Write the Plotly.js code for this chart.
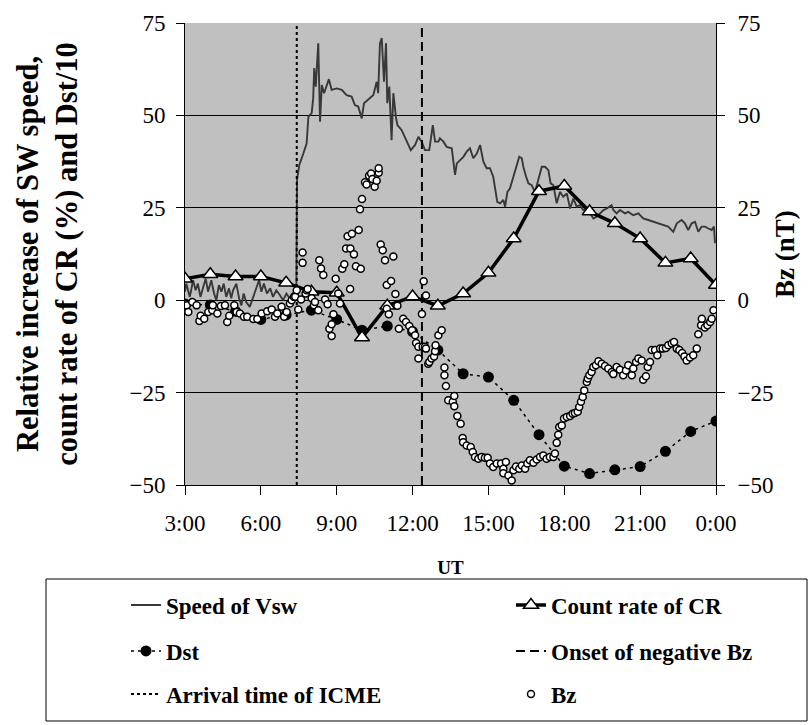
<!DOCTYPE html>
<html>
<head>
<meta charset="utf-8">
<script src="https://cdn.plot.ly/plotly-3.0.1.min.js"></script>
<style>html,body{margin:0;padding:0;background:#fff;}#chart{width:812px;height:725px;}</style>
</head>
<body>
<div id="chart"></div>
<script>
// ---- data (hours UT; 24 = 0:00 of next day) ----
const hours = [3,4,5,6,7,8,9,10,11,12,13,14,15,16,17,18,19,20,21,22,23,24];
const crRate = [5.8,7.0,6.4,6.4,4.7,2.3,2.0,-10.1,-1.5,1.0,-1.5,1.8,7.4,16.7,29.5,30.9,24.0,20.8,16.7,10.1,11.3,4.1];
const dstTenth = [-1.0,-1.3,-3.0,-5.2,-4.0,-2.7,-5.2,-8.1,-7.0,-8.5,-13.5,-19.9,-20.8,-27.1,-36.4,-44.9,-46.9,-45.9,-45.0,-40.9,-35.5,-32.7];

const speedTime = [3.0,3.05,3.19,3.32,3.42,3.51,3.61,3.71,3.82,3.91,4.04,4.15,4.24,4.34,4.44,4.53,4.63,4.74,4.83,4.90,5.03,5.14,5.23,5.32,5.42,5.56,5.69,5.82,5.93,6.02,6.12,6.24,6.37,6.48,6.61,6.75,6.88,7.01,7.14,7.27,7.40,7.43,
  7.52,7.68,7.81,7.88,8.01,8.07,8.11,8.17,8.27,8.34,8.41,8.50,8.60,8.69,8.80,9.00,9.20,9.39,9.59,9.72,9.85,9.99,10.08,10.25,10.45,10.58,10.64,10.71,10.78,10.87,10.95,11.00,11.08,11.17,11.24,11.34,11.40,11.57,11.77,11.93,12.10,12.23,12.36,12.49,12.66,12.80,12.89,13.02,
  13.08,13.22,13.35,13.55,13.68,13.75,13.88,14.01,14.14,14.27,14.40,14.54,14.67,14.80,14.93,15.06,15.19,15.26,15.35,15.46,15.59,15.66,15.75,15.85,15.98,16.12,16.22,16.32,16.38,16.49,16.58,16.71,16.84,16.97,17.11,17.24,17.37,17.46,17.57,17.70,17.83,17.96,18.10,18.23,18.36,18.49,18.62,18.75,18.89,19.02,19.15,19.28,19.41,19.55,19.68,19.87,19.94,20.07,20.20,20.40,20.53,20.73,20.93,21.12,21.32,21.52,21.71,21.92,22.11,22.31,22.45,22.64,22.77,22.90,23.04,23.17,23.30,23.43,23.57,23.70,23.83,23.92,23.96];
const speedVal = [2.3,4.5,0.9,5.4,2.7,4.5,0.9,3.6,5.9,2.3,5.4,1.8,0,4.1,2.3,4.5,0.9,3.2,0.5,2.7,4.5,0.5,-1.4,1.8,-0.5,-1.8,0.9,3.6,5.4,2.3,4.5,1.8,3.2,0.9,2.7,1.4,0,1.8,0.5,1.8,0.5,32.5,
  36.6,39.7,42.4,49.6,50.6,54.6,62.8,57.8,69.5,48.3,58.2,56.0,57.8,59.8,56.9,57.3,56.9,55.5,55.1,52.8,52.4,49.2,53.3,54.2,55.5,59.1,56.0,69.5,70.9,59.1,69.5,53.3,57.8,43.3,56.0,49.6,47.4,46.0,42.9,40.6,42.0,44.2,42.9,40.6,40.6,47.4,42.9,42.9,
  43.8,42.9,41.5,41.1,33.9,37.0,37.9,38.8,40.2,41.1,38.4,39.7,42.0,37.5,35.7,35.7,33.4,29.8,26.6,26.2,27.1,25.3,29.3,30.2,33.4,37.0,38.8,38.4,36.1,33.4,31.6,31.1,29.3,32.5,36.1,36.1,35.2,31.6,31.1,26.2,29.3,28.0,28.9,24.8,27.5,25.3,25.7,24.4,24.8,23.5,22.1,22.6,23.5,24.4,24.8,25.7,24.4,23.5,24.4,23.5,23.9,23.0,23.5,22.1,21.7,21.2,20.8,20.3,19.9,18.5,20.8,21.7,20.8,19.0,20.8,21.2,18.5,19.9,19.9,19.4,19.0,19.9,15.4];

const bzTime = [3.0,3.07,3.13,3.29,3.46,3.57,3.62,3.76,3.92,4.08,4.10,4.28,4.42,4.58,4.67,4.75,4.95,5.04,5.17,5.33,5.46,5.70,5.86,6.03,6.25,6.43,6.56,6.65,6.82,6.92,7.02,7.15,7.22,7.31,7.36,7.42,7.48,7.59,7.65,7.65,7.77,7.81,7.85,8.01,8.10,8.14,8.27,8.31,8.38,8.47,8.54,8.64,8.71,8.80,8.80,8.87,8.96,9.06,9.13,9.22,9.30,9.37,9.43,9.53,9.54,9.60,9.68,9.76,9.87,9.92,9.95,10.0,10.12,10.18,10.28,10.36,10.41,10.50,10.58,10.66,10.66,10.74,10.82,10.91,10.98,10.98,11.06,11.15,11.24,11.32,11.37,11.40,11.46,11.63,11.74,11.87,11.98,12.10,12.14,12.23,12.23,12.37,12.40,12.44,12.49,12.53,12.53,12.62,12.66,12.75,12.85,12.89,12.91,13.02,13.15,13.26,13.26,13.32,13.41,13.59,13.65,13.65,13.77,13.90,13.98,14.00,14.14,14.30,14.38,14.47,14.60,14.73,14.86,14.97,15.06,15.19,15.33,15.50,15.59,15.59,15.69,15.79,15.92,15.99,16.09,16.22,16.32,16.45,16.54,16.64,16.78,16.91,17.04,17.17,17.30,17.43,17.57,17.63,17.70,17.76,17.80,17.90,17.99,18.10,18.23,18.33,18.42,18.53,18.59,18.66,18.73,18.79,18.89,18.93,18.99,19.08,19.15,19.25,19.35,19.48,19.61,19.74,19.88,19.94,20.07,20.20,20.33,20.44,20.53,20.67,20.73,20.84,20.93,21.06,21.12,21.23,21.30,21.39,21.46,21.59,21.68,21.79,21.89,22.02,22.11,22.25,22.34,22.45,22.55,22.66,22.75,22.84,22.97,23.10,23.24,23.30,23.41,23.44,23.56,23.66,23.77,23.83,23.90];
const bzVal = [-1.0,-1.4,-3.2,-0.5,-1.4,-5.6,-4.2,-5.0,-3.2,-2.7,-1.4,-3.6,-1.6,-1.4,-5.9,-4.2,-1.4,-3.2,-3.6,-4.5,-4.5,-5.1,-5.1,-3.6,-3.0,-2.5,-4.5,-3.6,-1.8,-4.5,-3.2,-0.9,0,0.9,0.9,2.7,-2.5,0.2,12.9,10.1,1.8,2.7,3.0,0.5,-1.4,-0.5,-2.7,10.8,8.6,6.8,0.2,-1.1,-7.7,-6.5,-9.7,-3.8,5.8,1.8,-0.9,8.5,9.7,14.0,17.3,3.0,14.0,18.0,12.4,9.2,19.0,24.6,8.5,27.4,31.9,31.3,33.7,34.3,32.8,30.7,32.3,34.5,35.7,15.1,13.5,10.8,4.1,-2.3,-3.8,5.2,11.8,1.7,-1.4,-1.5,-7.7,-5.0,-5.9,-7.0,-8.1,-9.5,-11.6,-12.6,-15.8,-3.7,-12.6,5.1,-12.6,1.3,-13.1,-17.2,-16.7,-15.8,-15.2,-13.8,-12.2,-9.5,-8.1,-18.2,-20.3,-23.2,-27.1,-27.5,-25.9,-28.7,-31.3,-33.4,-37.3,-38.4,-39.3,-39.7,-41.1,-42.4,-42.9,-42.4,-42.6,-42.6,-44.2,-45.1,-44.2,-44.2,-45.6,-46.8,-43.8,-47.4,-48.8,-46.0,-45.0,-45.6,-44.7,-45.6,-44.2,-43.3,-44.0,-43.1,-42.4,-42.0,-42.9,-42.4,-42.4,-41.5,-38.6,-36.4,-34.3,-33.9,-32.0,-31.6,-31.3,-30.7,-30.5,-30.2,-28.9,-27.5,-26.2,-24.4,-22.1,-21.2,-20.3,-19.4,-18.1,-17.6,-16.5,-17.2,-17.8,-18.5,-19.4,-20.0,-18.1,-18.8,-20.3,-19.0,-17.6,-20.3,-18.5,-16.7,-15.8,-16.3,-21.5,-20.6,-18.1,-16.7,-13.5,-13.5,-14.9,-13.1,-13.1,-12.9,-12.2,-11.7,-11.3,-13.1,-13.5,-14.3,-15.2,-16.3,-15.5,-14.9,-13.1,-9.2,-6.8,-5.0,-7.4,-6.8,-5.9,-5.0,-2.7];

const arrivalTime = 7.42;   // arrival of ICME
const onsetTime = 12.37;    // onset of negative Bz
const yRange = [-50, 75];
const xTickVals = [3,6,9,12,15,18,21,24];
const xTickText = ["3:00","6:00","9:00","12:00","15:00","18:00","21:00","0:00"];
const yTickVals = [-50,-25,0,25,50,75];

const FONT = "Liberation Serif, serif";

const traces = [
  {x: speedTime, y: speedVal, type:'scatter', mode:'lines', name:'Speed of Vsw',
   line:{color:'#383838', width:1.9}, legend:'legend'},
  {x: hours, y: dstTenth, type:'scatter', mode:'lines+markers', name:'Dst',
   line:{color:'#000', width:1.5, dash:'3px,4px'}, marker:{color:'#000', size:11}, legend:'legend3'},
  {x: hours, y: crRate, type:'scatter', mode:'lines+markers', name:'Count rate of CR',
   line:{color:'#000', width:3.5}, marker:{symbol:'triangle-up', color:'#fff', size:13, line:{color:'#000', width:1.5}}, legend:'legend2'},
  {x: [arrivalTime, arrivalTime], y: yRange, type:'scatter', mode:'lines', name:'Arrival time of ICME',
   line:{color:'#000', width:2, dash:'3px,3px'}, legend:'legend5'},
  {x: [onsetTime, onsetTime], y: yRange, type:'scatter', mode:'lines', name:'Onset of negative Bz',
   line:{color:'#000', width:2, dash:'9px,5px'}, legend:'legend4'},
  {x: bzTime, y: bzVal, type:'scatter', mode:'markers', name:'Bz', yaxis:'y2',
   marker:{symbol:'circle', color:'#fff', size:7, line:{color:'#000', width:1.5}}, legend:'legend6'}
];

function leg(xPx, yPx){
  return {xref:'container', yref:'container', x:xPx/812, y:1 - yPx/725, xanchor:'left', yanchor:'middle',
    orientation:'h', bgcolor:'rgba(0,0,0,0)', borderwidth:0,
    font:{family:FONT, size:23, color:'#000', weight:'bold'}};
}
const col1 = 126, col2 = 511;
const row1 = 605, row2 = 651, row3 = 694;

const layout = {
  width:812, height:725,
  margin:{l:185, r:96, t:23, b:240, autoexpand:false},
  paper_bgcolor:'#fff', plot_bgcolor:'#c0c0c0',
  showlegend:true,
  font:{family:FONT, color:'#000'},
  xaxis:{range:[3,24], tickvals:xTickVals, ticktext:xTickText, ticks:'outside', ticklen:9, tickwidth:1, tickcolor:'#000',
    showline:true, linecolor:'#000', linewidth:1, showgrid:false, zeroline:false, ticklabelstandoff:8,
    tickfont:{family:FONT, size:23, color:'#000'}, automargin:false,
    title:{text:'UT', font:{family:FONT, size:19, color:'#000', weight:'bold'}, standoff:26}},
  yaxis:{range:yRange, tickvals:yTickVals, ticks:'outside', ticklen:8, tickwidth:1, tickcolor:'#000',
    showline:true, linecolor:'#000', linewidth:1, showgrid:true, gridcolor:'#000', gridwidth:1, zeroline:false,
    ticklabelstandoff:6, tickfont:{family:FONT, size:23, color:'#000'}, automargin:false,
    title:{text:'Relative increase of SW speed,<br>count rate of CR (%) and Dst/10', font:{family:FONT, size:30.5, color:'#000', weight:'bold'}, standoff:42}},
  yaxis2:{range:yRange, tickvals:yTickVals, overlaying:'y', side:'right', ticks:'outside', ticklen:8, tickwidth:1, tickcolor:'#000',
    showline:true, linecolor:'#000', linewidth:1, showgrid:false, zeroline:false, ticklabelstandoff:8,
    tickfont:{family:FONT, size:23, color:'#000'}, automargin:false,
    title:{text:'Bz (nT)', font:{family:FONT, size:27, color:'#000', weight:'bold'}, standoff:2}},
  legend: leg(col1, row1),
  legend2: leg(col2, row1),
  legend3: leg(col1, row2),
  legend4: leg(col2, row2),
  legend5: leg(col1, row3),
  legend6: leg(col2, row3),
  shapes:[{type:'rect', xref:'paper', yref:'paper', x0:(46-185)/531, x1:(807-185)/531, y0:(485-579)/462, y1:(485-721)/462,
    line:{color:'#000', width:1}, fillcolor:'rgba(0,0,0,0)', layer:'below'}]
};

Plotly.newPlot('chart', traces, layout, {staticPlot:true, displayModeBar:false});
</script>
</body>
</html>
